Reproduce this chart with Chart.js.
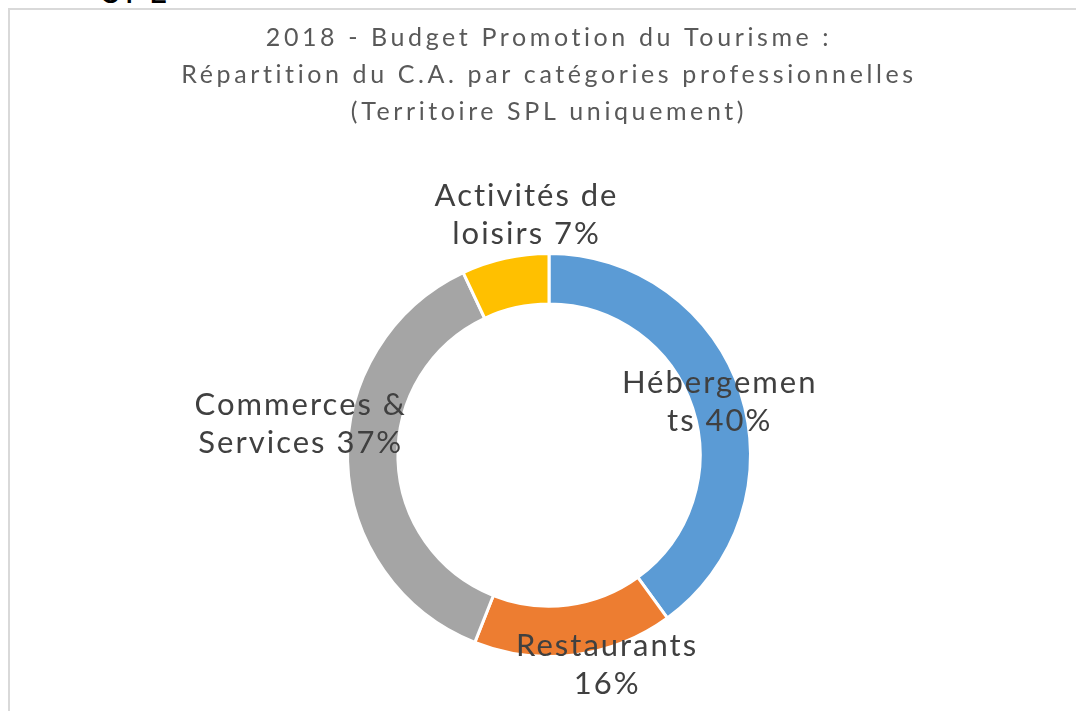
<!DOCTYPE html>
<html>
<head>
<meta charset="utf-8">
<script src="https://cdn.jsdelivr.net/npm/chart.js@4.4.0/dist/chart.umd.min.js"></script>
<style>
    html, body { margin: 0; padding: 0; background: #fff; }
    body { width: 1076px; height: 711px; position: relative; overflow: hidden; }
    #frame {
        position: absolute; left: 8px; top: 8px; width: 1200px; height: 800px;
        border-left: 2px solid #d9d9d9; border-top: 2px solid #d9d9d9;
    }
    #cut {
        position: absolute; left: 102px; top: -31px;
        font: 34px Lato, sans-serif; letter-spacing: 4px; color: #000;
    }
    #wrap { position: absolute; left: 0; top: 0; width: 1076px; height: 711px; }
</style>
</head>
<body>
<div id="cut">SPL</div>
<div id="frame"></div>
<div id="wrap"><canvas id="chart"></canvas></div>
<script>
// Chart data
const categories = ['Hébergements', 'Restaurants', 'Commerces & Services', 'Activités de loisirs'];
const shares = [40, 16, 37, 7];
const colors = ['#5b9bd5', '#ed7d31', '#a5a5a5', '#ffc000'];
// label text as Excel wraps it
const labelLines = [
    ['Hébergemen', 'ts 40%'],
    ['Restaurants', '16%'],
    ['Commerces &', 'Services 37%'],
    ['Activités de', 'loisirs 7%']
];
const titleLines = [
    '2018 - Budget Promotion du Tourisme :',
    'Répartition du C.A. par catégories professionnelles',
    '(Territoire SPL uniquement)'
];

// label shift from the ring middle, in px
const labelShift = [[2, 1], [35, 35], [-73, -37], [15, -68]];

/**
 * Wider letter spacing for the title (the original font is wider)
 */
const titleSpacing = {
    id: 'titleSpacing',
    beforeDraw(chart) {
        chart.ctx.letterSpacing = '3.6px';
    },
    beforeDatasetsDraw(chart) {
        chart.ctx.letterSpacing = '0px';
    }
};

/**
 * Draw the data labels near each arc
 */
const arcLabels = {
    id: 'arcLabels',
    afterDatasetsDraw(chart) {
        const ctx = chart.ctx;
        const meta = chart.getDatasetMeta(0);
        ctx.save();
        ctx.font = '31px Lato, sans-serif';
        ctx.letterSpacing = '2px';
        ctx.fillStyle = '#404040';
        ctx.textAlign = 'center';
        ctx.textBaseline = 'middle';
        meta.data.forEach((arc, i) => {
            const pos = arc.tooltipPosition();
            const x = pos.x + labelShift[i][0] + 1;
            const y = pos.y + labelShift[i][1];
            const lines = labelLines[i];
            const lh = 38;
            lines.forEach((line, j) => {
                ctx.fillText(line, x, y + (j - (lines.length - 1) / 2) * lh);
            });
        });
        ctx.restore();
    }
};

new Chart(document.getElementById('chart'), {
    type: 'doughnut',
    data: {
        labels: categories,
        datasets: [{
            data: shares,
            backgroundColor: colors,
            borderColor: '#ffffff',
            borderWidth: 3,
            hoverOffset: 0
        }]
    },
    options: {
        responsive: true,
        maintainAspectRatio: false,
        animation: false,
        cutout: '75%',
        radius: 201.5,
        layout: {
            padding: { left: 22, bottom: 1.5 }
        },
        plugins: {
            legend: { display: false },
            tooltip: { enabled: false },
            title: {
                display: true,
                text: titleLines,
                color: '#595959',
                font: { family: 'Lato, sans-serif', size: 25, weight: 'normal', lineHeight: 37 / 25 },
                padding: { top: 19.5, bottom: 70 }
            }
        }
    },
    plugins: [titleSpacing, arcLabels]
});
</script>
</body>
</html>
